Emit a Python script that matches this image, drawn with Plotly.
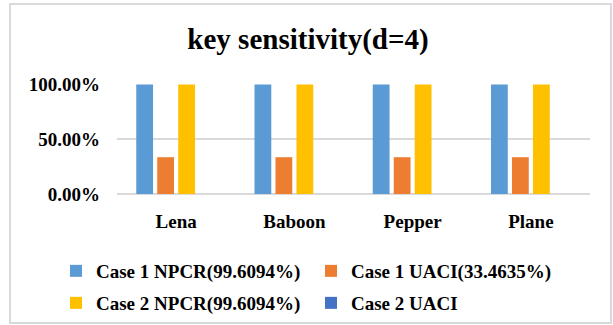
import plotly.graph_objects as go

# Test images and the sensitivity measures for each key case
images = ["Lena", "Baboon", "Pepper", "Plane"]
case1_npcr = [99.6094, 99.6094, 99.6094, 99.6094]
case1_uaci = [33.4635, 33.4635, 33.4635, 33.4635]
case2_npcr = [99.6094, 99.6094, 99.6094, 99.6094]
case2_uaci = [None, None, None, None]

series_names = [
    "Case 1 NPCR(99.6094%)",
    "Case 1 UACI(33.4635%)",
    "Case 2 NPCR(99.6094%)",
    "Case 2 UACI",
]
series_values = [case1_npcr, case1_uaci, case2_npcr, case2_uaci]
series_colors = ["#5B9BD5", "#ED7D31", "#FFC000", "#4472C4"]
series_legends = ["legend", "legend", "legend2", "legend2"]

y_ticks = [0, 0.5, 1.0]

SERIF = "Liberation Serif, Times New Roman, serif"

fig = go.Figure()
for name, vals, color, lg in zip(series_names, series_values, series_colors, series_legends):
    fig.add_trace(go.Bar(
        x=images,
        y=[None if v is None else v / 100 for v in vals],
        name=name,
        marker=dict(color=color, line=dict(width=0)),
        legend=lg,
    ))

W, H = 613, 325
L, R, T, B = 117, 23, 84, 131
pw, ph = W - L - R, H - T - B

def px_to_paper(x, y):
    return (x - L) / pw, (H - B - y) / ph

bx0, by0 = px_to_paper(10, 4)
bx1, by1 = px_to_paper(611, 323)

bold_font = dict(family=SERIF, size=19, color="#000000", weight="bold")

legend_common = dict(
    orientation="h",
    font=bold_font,
    bgcolor="rgba(0,0,0,0)",
    xanchor="left",
    yanchor="middle",
    entrywidth=210,
    itemwidth=30,
)
lx, ly1 = px_to_paper(56, 271)
_, ly2 = px_to_paper(56, 303)

fig.update_layout(
    width=W,
    height=H,
    margin=dict(l=L, r=R, t=T, b=B, pad=0, autoexpand=False),
    paper_bgcolor="white",
    plot_bgcolor="white",
    barmode="group",
    bargap=0.29,
    bargroupgap=0.2,
    title=dict(
        text="key sensitivity(d=4)",
        font=dict(family=SERIF, size=29, color="#000000", weight="bold"),
        x=308 / W,
        xref="container",
        xanchor="center",
        y=1 - 39 / H,
        yref="container",
        yanchor="middle",
    ),
    xaxis=dict(
        showgrid=False,
        showline=False,
        zeroline=False,
        tickfont=bold_font,
        ticklabelstandoff=14,
    ),
    yaxis=dict(
        range=[0, 1.0],
        tickvals=y_ticks,
        tickformat=".2%",
        showgrid=True,
        gridcolor="#D9D9D9",
        gridwidth=1.5,
        zeroline=True,
        zerolinecolor="#D9D9D9",
        zerolinewidth=1.5,
        showline=False,
        tickfont=bold_font,
        ticklabelstandoff=16,
    ),
    legend=dict(legend_common, x=lx, y=ly1),
    legend2=dict(legend_common, x=lx, y=ly2),
    shapes=[
        dict(
            type="rect", xref="paper", yref="paper",
            x0=bx0, y0=by0, x1=bx1, y1=by1,
            line=dict(color="#D9D9D9", width=2),
            fillcolor="rgba(0,0,0,0)",
            layer="below",
        )
    ],
)

fig.write_html("out.html")
